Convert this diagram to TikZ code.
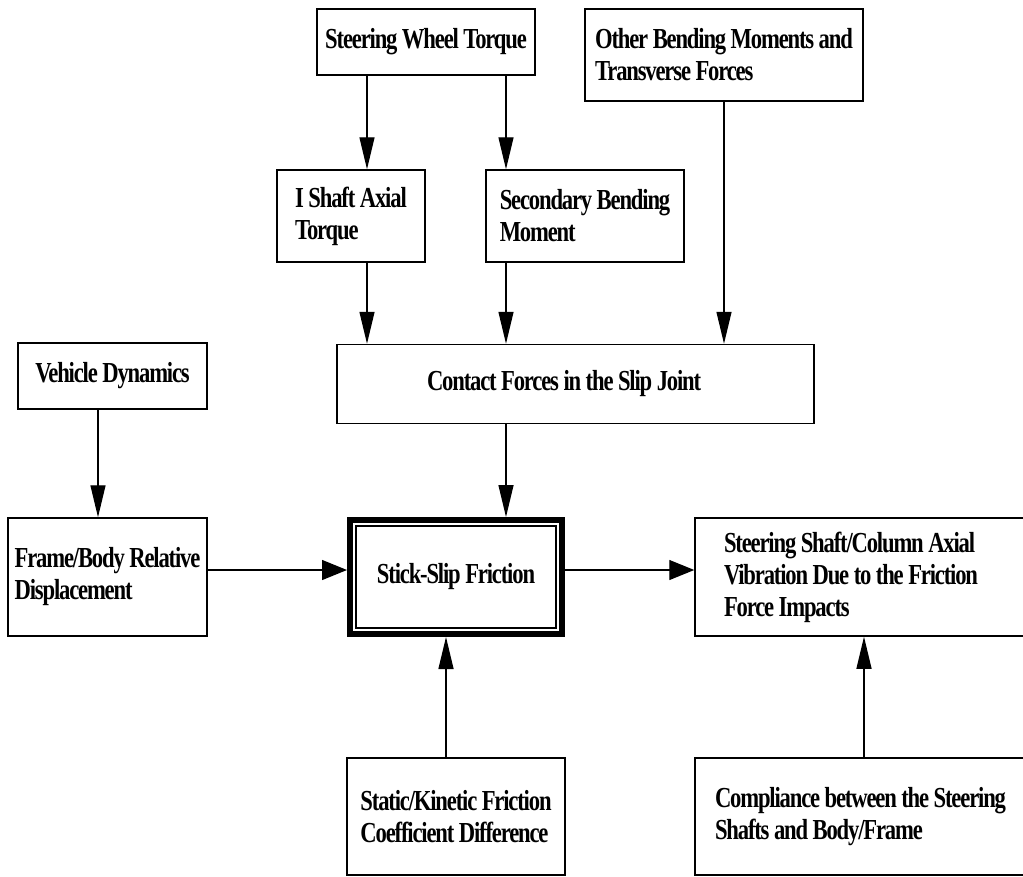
\documentclass[tikz,border=0pt]{standalone}
\usepackage{fontspec}
\setmainfont{Liberation Serif}
\newfontfamily\boxfont{Liberation Serif}[FakeStretch=0.78,LetterSpace=-4]
\usetikzlibrary{arrows.meta}

\begin{document}
\begin{tikzpicture}[x=1pt,y=-1pt,
                    blk/.style={draw,line width=1.5pt,inner sep=0pt,align=flush left,
                                font=\boxfont\bfseries\fontsize{29}{32}\selectfont},
                    varr/.style={line width=1.3pt,-{Triangle[length=32pt,width=15pt]}},
                    harr/.style={line width=1.3pt,-{Triangle[length=25pt,width=20pt]}}]
  \clip (0,0) rectangle (1023,876);
  \fill[white] (0,0) rectangle (1023,876);
  % arrow columns and row
  \coordinate (ax) at (367,0);
  \coordinate (bx) at (506,0);
  \coordinate (vx) at (98,0);
  \coordinate (sx) at (446,0);
  \coordinate (cx) at (864,0);
  \coordinate (hy) at (0,570);

  \node[blk,minimum width=218pt,minimum height=66pt] (wheel) at (426,42) {Steering Wheel Torque};
  \node[blk,minimum width=278pt,minimum height=92pt] (otherbm) at (724,55)
       {Other Bending Moments and\\Transverse Forces};
  \node[blk,minimum width=148pt,minimum height=92pt] (axialtq) at (351,216) {I Shaft Axial\\Torque};
  \node[blk,minimum width=198pt,minimum height=92pt] (secbm) at (585,216) {Secondary Bending\\Moment};
  \node[blk,minimum width=189pt,minimum height=66pt,align=center] (vehdyn) at (112.5,376) {Vehicle Dynamics};
  \node[blk,minimum width=477pt,minimum height=79pt,text width=297pt] (contact) at (575.5,384)
       {Contact Forces in the Slip Joint};
  \node[blk,minimum width=199pt,minimum height=118pt] (framebody) at (107.5,577)
       {Frame/Body Relative\\Displacement};
  \node[blk,line width=6pt,minimum width=212pt,minimum height=114pt,align=center] (stickslip) at (456,577)
       {Stick-Slip Friction};
  \draw[line width=1.5pt] ([xshift=9pt,yshift=9pt]stickslip.south west)
       rectangle ([xshift=-9pt,yshift=-9pt]stickslip.north east);
  \node[blk,minimum width=335pt,minimum height=118pt,text width=277pt] (axialvib) at (862.5,577)
       {Steering Shaft/Column Axial\\Vibration Due to the Friction\\Force Impacts};
  \node[blk,minimum width=218pt,minimum height=117pt] (coeff) at (456,816.5)
       {Static/Kinetic Friction\\Coefficient Difference};
  \node[blk,minimum width=335pt,minimum height=117pt,text width=295pt] (compliance) at (862.5,816.5)
       {Compliance between the Steering\\Shafts and Body/Frame};

  \draw[varr] (wheel.south -| ax) -- (axialtq.north -| ax);
  \draw[varr] (wheel.south -| bx) -- (secbm.north -| bx);
  \draw[varr] (axialtq.south -| ax) -- (contact.north -| ax);
  \draw[varr] (secbm.south -| bx) -- (contact.north -| bx);
  \draw[varr] (otherbm.south) -- (contact.north -| otherbm);
  \draw[varr] (vehdyn.south -| vx) -- (framebody.north -| vx);
  \draw[varr] (contact.south -| bx) -- (stickslip.north -| bx);
  \draw[harr] (framebody.east |- hy) -- (stickslip.west |- hy);
  \draw[harr] (stickslip.east |- hy) -- (axialvib.west |- hy);
  \draw[varr] (coeff.north -| sx) -- (stickslip.south -| sx);
  \draw[varr] (compliance.north -| cx) -- (axialvib.south -| cx);
\end{tikzpicture}
\end{document}
